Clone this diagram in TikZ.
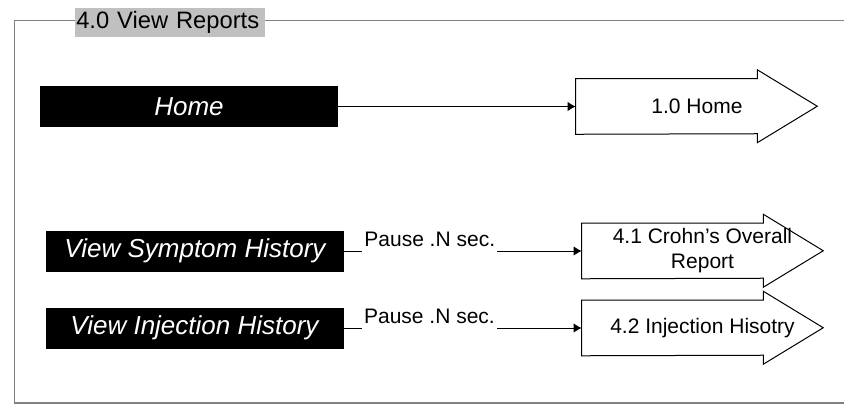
\documentclass[tikz,border=0pt]{standalone}
\usepackage{fontspec}
\setmainfont{Liberation Sans}
\usetikzlibrary{positioning,arrows.meta}
\definecolor{gristitulo}{HTML}{C0C0C0}
\definecolor{grismarco}{HTML}{808080}
\tikzset{
  pantalla/.style={fill=black, text=white, minimum width=223.5pt, minimum height=30.75pt, font=\fontsize{19.5}{23}\selectfont\itshape},
  cuerpo/.style={minimum width=135.75pt, minimum height=41.25pt, inner sep=0pt},
  contorno/.style={draw=black, line width=0.75pt, line join=miter},
  rotulo/.style={align=center, font=\fontsize{15.75}{18.75}\selectfont},
  enlace/.style={draw=black, line width=0.75pt, -{Latex[length=6pt,width=7pt]}},
  pausa/.style={fill=white, inner xsep=1.5pt, inner ysep=0.75pt, text depth=6pt, anchor=base, yshift=3.75pt, font=\fontsize{15.75}{18}\selectfont},
  titulo/.style={fill=gristitulo, text width=141pt, align=left, inner xsep=0.75pt, inner ysep=0pt, minimum height=21.75pt, font=\fontsize{17.8}{21}\selectfont},
  marco/.style={draw=grismarco, line width=1pt},
}
\begin{document}
\begin{tikzpicture}[x=0.75pt, y=-0.75pt]
  \useasboundingbox (0,0) rectangle (844,405);
  % marco
  \draw[marco] (844,20.7) -- (14.7,20.7) -- (14.7,403) -- (844,403);
  \node[titulo, anchor=north west] (tit) at (75,8) {4.0 View Reports};
  % pantallas
  \node[pantalla] (home) at (189,106.5) {Home};
  \node[pantalla] (sintomas) at (195,251) {View Symptom History};
  \node[pantalla] (inyecciones) at (194.5,328) {View Injection History};
  % destinos
  \node[cuerpo] (r10) at (666.5,106.5) {};
  \node[cuerpo] (r41) at (672.5,251) {};
  \node[cuerpo] (r42) at (672.5,328) {};
  \foreach \r in {r10,r41,r42}
    \draw[contorno] (\r.north west) -- (\r.north east) -- ++(0,-9) -- ++(60,36.5)
      -- ++(-60,36.5) -- ++(0,-9) -- (\r.south west) -- cycle;
  \node[rotulo] (t10) at (697,106.5) {1.0 Home};
  \node[rotulo] (t41) at (702.5,251) {4.1 Crohn's Overall\\Report};
  \node[rotulo] (t42) at (702.5,328) {4.2 Injection Hisotry};
  % enlaces
  \draw[enlace] (home) -- (r10);
  \draw[enlace] (sintomas) -- node[pausa, pos=0.36] (p41) {Pause .N sec.} (r41);
  \draw[enlace] (inyecciones) -- node[pausa, pos=0.36] (p42) {Pause .N sec.} (r42);
\end{tikzpicture}
\end{document}
